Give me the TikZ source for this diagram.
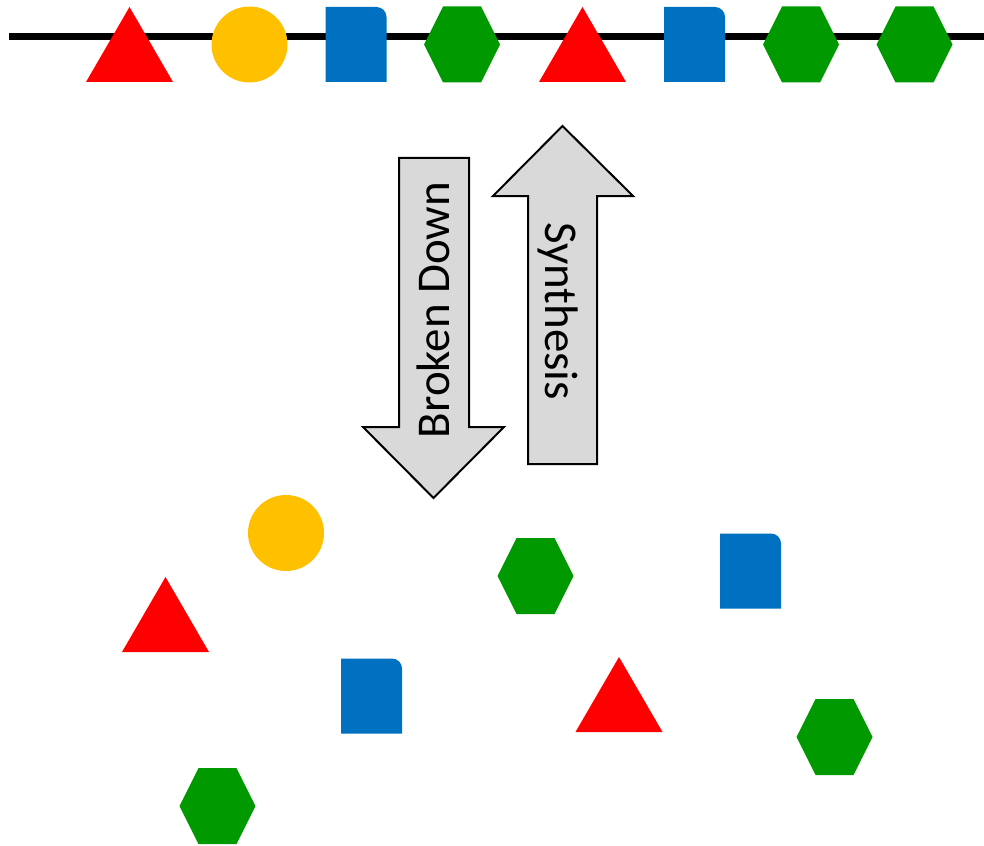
\documentclass[tikz,border=0pt]{standalone}
\usepackage{fontspec}
\setmainfont{Carlito}
\definecolor{myred}{RGB}{255,0,0}
\definecolor{myyellow}{RGB}{255,192,0}
\definecolor{myblue}{RGB}{0,112,192}
\definecolor{mygreen}{RGB}{0,153,0}
\definecolor{arrowgray}{RGB}{217,217,217}
\tikzset{
  tri/.pic={\fill[myred] (-43.5,37.5) -- (0,-37.5) -- (43.5,37.5) -- cycle;},
  ball/.pic={\fill[myyellow] (0,0) circle[radius=38pt];},
  doc/.pic={\fill[myblue] (-30.5,37.5) -- (-30.5,-37.5) [rounded corners=10pt] -- (30.5,-37.5) [sharp corners] -- (30.5,37.5) -- cycle;},
  hexa/.pic={\fill[mygreen] (-38,0) -- (-19,-38) -- (19,-38) -- (38,0) -- (19,38) -- (-19,38) -- cycle;},
  bigarrow/.style={draw=black, fill=arrowgray, line width=2pt, line join=miter},
  arrowtext/.style={font=\fontsize{47}{52}\selectfont, inner sep=0pt, anchor=base},
  chain/.style={line width=7pt}
}
\begin{document}
\begin{tikzpicture}[x=1pt,y=-1pt]
\useasboundingbox (0,0) rectangle (984,845);
\coordinate (cl) at (9,37);
\coordinate (cr) at (984,37);
\draw[chain] (cl) -- (cr);
% top chain
\pic (t1) at (129.5,44.5) {tri};
\pic (t2) at (249.5,44.5) {ball};
\pic (t3) at (356,44.5) {doc};
\pic (t4) at (462,44.5) {hexa};
\pic (t5) at (582.5,44.5) {tri};
\pic (t6) at (694.5,44.5) {doc};
\pic (t7) at (801,44.5) {hexa};
\pic (t8) at (914.5,44.5) {hexa};
% arrows
\draw[bigarrow] (399,158) -- (469,158) -- (469,427) -- (504,427) -- (433.5,498) -- (363,427) -- (399,427) -- cycle;
\draw[bigarrow] (528,464) -- (528,196) -- (493,196) -- (562.5,126) -- (633,196) -- (597,196) -- (597,464) -- cycle;
\node[arrowtext, rotate=90] (bd) at (449,310) {Broken Down};
\node[arrowtext, rotate=-90] (sy) at (545,311) {Synthesis};
% scattered
\pic (b1) at (286,533) {ball};
\pic (b2) at (165.5,614.5) {tri};
\pic (b3) at (371.5,696) {doc};
\pic (b4) at (217.5,806) {hexa};
\pic (b5) at (535.5,576) {hexa};
\pic (b6) at (619,694.5) {tri};
\pic (b7) at (750.5,571) {doc};
\pic (b8) at (834.5,737) {hexa};
\end{tikzpicture}
\end{document}
